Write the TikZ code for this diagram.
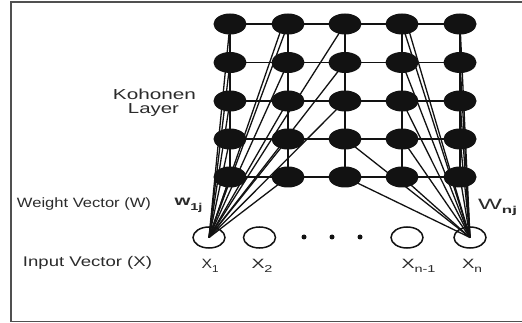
\documentclass[tikz,border=0pt]{standalone}
\usepackage{fontspec}
\setmainfont{Liberation Sans}
\usepackage{graphicx}
\usetikzlibrary{shapes.geometric,backgrounds}

% set text to a given width (in pt), keeping its natural height
\newcommand\fitw[2]{\resizebox{#1pt}{\height}{#2}}
\newcommand\sbs[1]{\raisebox{-0.3em}{\fontsize{10}{10}\selectfont #1}}

\definecolor{ink}{HTML}{121212}
\definecolor{txt}{HTML}{2b2b2b}
\definecolor{framecol}{HTML}{505050}

\tikzset{
  unit/.style={ellipse, fill=ink, draw=none, minimum width=33pt, minimum height=21pt, inner sep=0pt},
  inp/.style={ellipse, draw=ink, line width=1.5pt, minimum width=32pt, minimum height=21pt, inner sep=0pt},
  gridline/.style={draw=ink, line width=1.9pt},
  wire/.style={draw=ink, line width=1.3pt},
  lbl/.style={text=txt, inner sep=0pt, anchor=base},
  dotn/.style={circle, fill=ink, minimum size=5pt, inner sep=0pt},
}

\begin{document}
\begin{tikzpicture}[x=1pt,y=-1pt]
\useasboundingbox (0,0) rectangle (522,323);

% frame (open on the right)
\draw[framecol, line width=1.7pt] (522,1.8) -- (10.8,1.8) -- (10.8,321.6) -- (522,321.6);

% Kohonen layer units
\foreach \c/\x in {1/230,2/288,3/345,4/402,5/460}
  \foreach \r/\y in {1/24,2/62.5,3/101,4/139,5/177}
    \node[unit] (u\c\r) at (\x,\y) {};

% input units
\node[inp] (x1)  at (209,237.5) {};
\node[inp] (x2)  at (259.5,237.5) {};
\node[inp] (xn1) at (407,237.5) {};
\node[inp] (xn)  at (470,237.5) {};
\node[dotn] (d1) at (304,237) {};
\node[dotn] (d2) at (332,237) {};
\node[dotn] (d3) at (360,237) {};

\begin{scope}[on background layer]
  \fill[white] (0,0) rectangle (522,323);
  % lattice
  \foreach \r in {1,...,5} \draw[gridline] (u1\r.center) -- (u5\r.center);
  \foreach \c in {1,...,5} \draw[gridline] (u\c1.center) -- (u\c5.center);
  % weights from x1
  \foreach \t in {u11,u12,u13,u14,u15,u21,u22,u23,u24,u25,u31,u32,u33}
    \draw[wire] (x1.center) -- (\t.center);
  \draw[wire] (x1.center) -- ([xshift=-5pt]u21.center);
  % weights from xn
  \foreach \t in {u51,u52,u53,u54,u55,u41,u42,u43,u44,u45,u34,u35}
    \draw[wire] (xn.center) -- (\t.center);
  \draw[wire] (xn.center) -- ([xshift=5pt]u41.center);
\end{scope}

% labels
\node[lbl] (klayer1) at (154.5,99.5) {\fitw{83}{\fontsize{14.5}{16}\selectfont Kohonen}};
\node[lbl] (klayer2) at (153.5,113.5) {\fitw{51}{\fontsize{14.5}{16}\selectfont Layer}};
\node[lbl] (wlabel) at (84,207.5) {\fitw{134}{\fontsize{13.5}{15}\selectfont Weight Vector (W)}};
\node[lbl] (ilabel) at (87.5,266.5) {\fitw{129}{\fontsize{14}{15}\selectfont Input Vector (X)}};

\node[lbl] (w1) at (188.5,206) {\fitw{28}{\fontsize{14}{15}\selectfont\bfseries w\sbs{1j}}};
\node[lbl] (wn) at (497.5,209) {\fitw{39}{\fontsize{15}{15}\selectfont W\sbs{\bfseries nj}}};

\node[lbl] (lx1)  at (210,268) {\fitw{17}{\fontsize{13.5}{14}\selectfont X\sbs{1}}};
\node[lbl] (lx2)  at (262,268) {\fitw{21}{\fontsize{13.5}{14}\selectfont X\sbs{2}}};
\node[lbl] (lxn1) at (418.5,268) {\fitw{34}{\fontsize{13.5}{14}\selectfont X\sbs{n-1}}};
\node[lbl] (lxn)  at (472,268) {\fitw{20}{\fontsize{13.5}{14}\selectfont X\sbs{n}}};
\end{tikzpicture}
\end{document}
